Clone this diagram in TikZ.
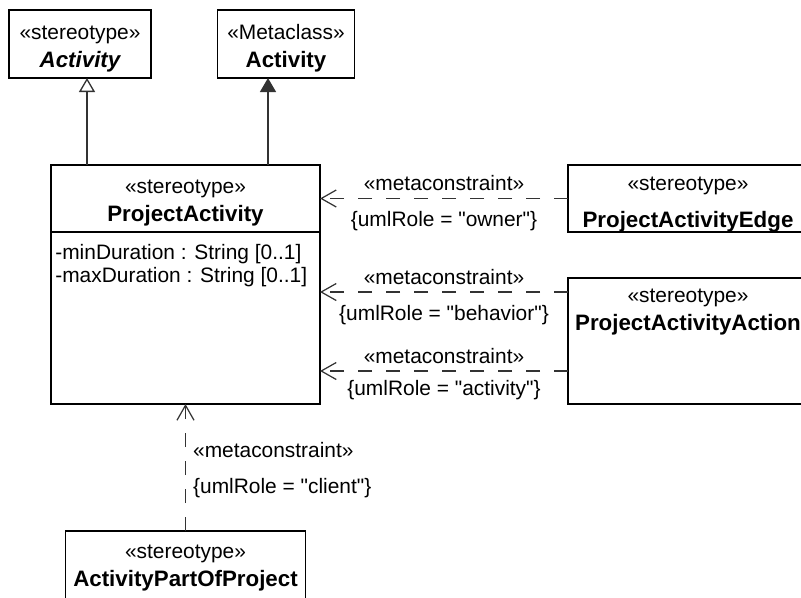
\documentclass[tikz,border=0pt]{standalone}
\usepackage{fontspec}
\setmainfont{Liberation Sans}
\usetikzlibrary{arrows.meta,positioning}
\newcommand{\clsname}[1]{{\fontsize{12.7pt}{15.9pt}\selectfont\bfseries #1}}

\begin{document}
\begin{tikzpicture}[
    node distance=2cm,
    font=\fontsize{11.9pt}{15.9pt}\selectfont,
    classbox/.style={rectangle,draw,line width=1.1pt,outer sep=0pt,inner ysep=0pt,align=center,text height=29pt},
    attrs/.style={align=left,inner sep=0pt,font=\fontsize{11.9pt}{13pt}\selectfont},
    generalize/.style={-{Triangle[open,length=0.28cm,width=0.32cm]},line width=0.75pt,draw=black!80},
    extends/.style={-{Triangle[length=0.28cm,width=0.32cm]},line width=0.75pt,draw=black!80,fill=black!80},
    constraint/.style={-{Straight Barb[length=0.3cm,width=0.34cm]},line width=0.7pt,draw=black!80,dash pattern=on 0.28cm off 0.28cm},
    tag/.style={inner sep=4pt},
    tagbelow/.style={below,inner sep=7pt}
]
\useasboundingbox (0,0) rectangle (16.02,-11.94);
\clip (0,0) rectangle (16.02,-11.94);

% Top classes
\node[classbox,minimum width=2.84cm,minimum height=1.36cm] (stAct) at (1.6,-0.88) {«stereotype»\\\clsname{\itshape Activity}};
\node[classbox,minimum width=2.74cm,minimum height=1.36cm] (metaAct) at (5.72,-0.88) {«Metaclass»\\\clsname{Activity}};

% ProjectActivity
\node[classbox,minimum width=5.38cm,minimum height=1.34cm] (projHead) at (3.71,-3.97) {«stereotype»\\\clsname{ProjectActivity}};
\node[classbox,minimum width=5.38cm,minimum height=3.44cm,below=0pt of projHead] (projBody) {};
\node[attrs,anchor=north west] (projAttr) at ([shift={(0.08,-0.24)}]projBody.north west) {-minDuration : String [0..1]\\-maxDuration : String [0..1]};

% Right-hand stereotypes
\node[classbox,minimum width=4.8cm,minimum height=1.34cm,right=4.96cm of projHead] (edge) {};
\node[below=0.12cm of edge.north,align=center] (edgeText) {«stereotype»\\[5pt]\clsname{ProjectActivityEdge}};
\node[classbox,minimum width=4.8cm,minimum height=2.52cm,below=0.92cm of edge] (action) {};
\node[below=0.1cm of action.north,align=center] (actionText) {«stereotype»\\\clsname{ProjectActivityAction}};

% Bottom stereotype
\node[classbox,minimum width=4.8cm,minimum height=1.4cm,text height=25.6pt,below=2.54cm of projBody] (partOf) {«stereotype»\\\clsname{ActivityPartOfProject}};

% Generalizations
\coordinate (genSt) at ([xshift=0.14cm]stAct.south);
\coordinate (genMeta) at ([xshift=-0.36cm]metaAct.south);
\draw[generalize] (genSt |- projHead.north) -- (genSt);
\draw[extends] (genMeta |- projHead.north) -- (genMeta);

% Metaconstraints
\coordinate (behY) at ([yshift=0.98cm]action.west);
\coordinate (actY) at ([yshift=-0.6cm]action.west);
\draw[constraint] (edge.west) -- (projHead.east)
    node[midway,above,tag] {«metaconstraint»}
    node[midway,tagbelow] {\{umlRole = \textquotedbl owner\textquotedbl\}};
\draw[constraint] (behY) -- (behY -| projBody.east)
    node[midway,above,tag] {«metaconstraint»}
    node[midway,tagbelow] {\{umlRole = \textquotedbl behavior\textquotedbl\}};
\draw[constraint] (actY) -- (actY -| projBody.east)
    node[midway,above,tag] {«metaconstraint»}
    node[midway,tagbelow,inner sep=5pt] {\{umlRole = \textquotedbl activity\textquotedbl\}};
\draw[constraint] (partOf.north) -- (projBody.south)
    node[pos=0.34,anchor=west,tag] {\{umlRole = \textquotedbl client\textquotedbl\}}
    node[pos=0.64,anchor=west,tag] {«metaconstraint»};

\end{tikzpicture}
\end{document}
